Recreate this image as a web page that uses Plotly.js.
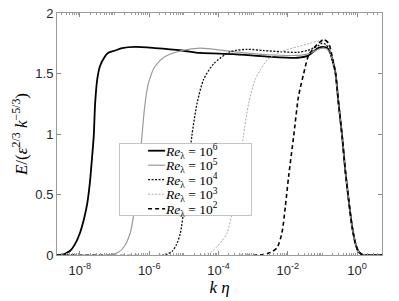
<!DOCTYPE html>
<html><head><meta charset="utf-8">
<script src="https://cdn.plot.ly/plotly-3.0.1.min.js"></script>
<style>html,body{margin:0;padding:0;background:#fff}#chart{width:399px;height:301px}</style>
</head><body><div id="chart"></div>
<script>
// x: log10(k*eta), y: E/(eps^{2/3} k^{-5/3})
const logK_Re6 = [-8.66,-8.52,-8.43,-8.28,-8.14,-8.00,-7.88,-7.79,-7.71,-7.65,-7.60,-7.56,-7.50,-7.42,-7.30,-7.19,-6.98,-6.78,-6.41,-5.83,-5.05,-4.53,-3.57,-2.59,-1.72,-1.43,-1.26,-1.12,-0.97,-0.86,-0.77,-0.68,-0.62,-0.54,-0.43,-0.34,-0.24,-0.14,-0.05,0.04,0.155,0.72];
const E_Re6    = [0,0.002,0.01,0.035,0.09,0.18,0.30,0.42,0.60,0.80,0.98,1.25,1.45,1.56,1.63,1.67,1.69,1.71,1.72,1.71,1.69,1.67,1.66,1.64,1.63,1.645,1.68,1.71,1.72,1.71,1.67,1.58,1.50,1.27,0.98,0.70,0.45,0.23,0.10,0.03,0.003,0];

const logK_Re5 = [-8.66,-7.13,-6.90,-6.72,-6.55,-6.41,-6.31,-6.21,-6.12,-6.02,-5.83,-5.54,-5.05,-4.53,-3.57,-2.59,-1.72,-1.43,-1.26,-1.12,-0.97,-0.86,-0.77,-0.68,-0.62,-0.54,-0.43,-0.34,-0.24,-0.14,-0.05,0.04,0.155,0.72];
const E_Re5    = [0,0.002,0.02,0.07,0.18,0.40,0.65,0.98,1.25,1.42,1.56,1.64,1.69,1.71,1.68,1.655,1.65,1.66,1.68,1.70,1.71,1.70,1.66,1.57,1.49,1.26,0.97,0.70,0.45,0.23,0.10,0.03,0.003,0];

const logK_Re4 = [-8.66,-5.54,-5.34,-5.22,-5.10,-4.99,-4.89,-4.77,-4.62,-4.43,-4.14,-3.66,-3.17,-2.71,-2.21,-1.72,-1.43,-1.26,-1.12,-1.01,-0.90,-0.80,-0.70,-0.62,-0.54,-0.43,-0.34,-0.24,-0.14,-0.05,0.04,0.155,0.72];
const E_Re4    = [0,0.002,0.03,0.08,0.18,0.40,0.65,0.98,1.25,1.45,1.58,1.68,1.70,1.69,1.68,1.675,1.69,1.71,1.73,1.75,1.74,1.69,1.59,1.50,1.27,0.98,0.70,0.45,0.23,0.10,0.03,0.003,0];

const logK_Re3 = [-8.66,-4.38,-4.18,-4.04,-3.89,-3.755,-3.565,-3.42,-3.28,-3.13,-2.94,-2.60,-2.21,-1.73,-1.35,-1.10,-0.96,-0.86,-0.77,-0.68,-0.62,-0.54,-0.43,-0.34,-0.24,-0.14,-0.05,0.04,0.155,0.72];
const E_Re3    = [0,0.002,0.03,0.07,0.12,0.18,0.40,0.65,0.98,1.25,1.45,1.61,1.68,1.72,1.75,1.77,1.78,1.75,1.69,1.59,1.50,1.27,0.98,0.70,0.45,0.23,0.10,0.03,0.003,0];

const logK_Re2 = [-8.66,-2.735,-2.50,-2.31,-2.17,-2.07,-1.975,-1.83,-1.69,-1.54,-1.40,-1.25,-1.11,-0.96,-0.82,-0.74,-0.68,-0.62,-0.54,-0.43,-0.34,-0.24,-0.14,-0.05,0.04,0.155,0.72];
const E_Re2    = [0,0.002,0.02,0.06,0.18,0.40,0.65,0.98,1.31,1.50,1.65,1.71,1.75,1.78,1.75,1.67,1.59,1.50,1.27,0.98,0.70,0.45,0.23,0.10,0.03,0.003,0];

const seriesNames = ['<i>Re</i><sub>λ</sub> = 10<sup>6</sup>','<i>Re</i><sub>λ</sub> = 10<sup>5</sup>','<i>Re</i><sub>λ</sub> = 10<sup>4</sup>','<i>Re</i><sub>λ</sub> = 10<sup>3</sup>','<i>Re</i><sub>λ</sub> = 10<sup>2</sup>'];
const xTickExp  = [-8,-6,-4,-2,0];
const xTickText = ['10<sup>-8</sup>','10<sup>-6</sup>','10<sup>-4</sup>','10<sup>-2</sup>','10<sup>0</sup>'];

const toK = a => a.map(v => Math.pow(10, v));
const styles = [
  {color:'#000000', width:1.8, dash:'solid'},
  {color:'#9a9a9a', width:1.2, dash:'solid'},
  {color:'#111111', width:1.3, dash:'2px,1.5px'},
  {color:'#ababab', width:1.0, dash:'2px,1.5px'},
  {color:'#000000', width:1.6, dash:'4px,3px'}
];
const xs = [logK_Re6, logK_Re5, logK_Re4, logK_Re3, logK_Re2];
const ys = [E_Re6, E_Re5, E_Re4, E_Re3, E_Re2];
const traces = xs.map((x,i) => ({
  x: toK(x), y: ys[i], type:'scatter', mode:'lines', name: seriesNames[i],
  line: Object.assign({shape:'spline', smoothing:0.7}, styles[i])
}));

const minorVals = [];
for (let e = -9; e <= 0; e++) for (let d = 1; d <= 9; d++) {
  if (d === 1 && e % 2 === 0) continue;
  minorVals.push(d * Math.pow(10, e));
}

const serif = 'Liberation Serif';
const layout = {
  width:399, height:301,
  margin:{l:57, r:17, t:13, b:46},
  paper_bgcolor:'#ffffff', plot_bgcolor:'#ffffff',
  font:{family:'Liberation Sans', size:13, color:'#262626'},
  showlegend:true,
  xaxis:{
    type:'log', range:[-8.66,0.72], tickmode:'array',
    tickvals: xTickExp.map(e => Math.pow(10, e)), ticktext: xTickText,
    ticks:'inside', ticklen:4, tickcolor:'#8a8a8a', linecolor:'#9a9a9a', linewidth:1,
    mirror:'ticks', showgrid:false, zeroline:false, ticklabelstandoff:3,
    minor:{ticks:'inside', ticklen:2, tickcolor:'#9a9a9a', tickmode:'array', tickvals:minorVals, showgrid:false},
    automargin:false,
    title:{text:'<i>k η</i>', font:{family:serif, size:17, color:'#000'}, standoff:2}
  },
  yaxis:{
    range:[0,2], tick0:0, dtick:0.5, ticks:'inside', ticklen:4, tickcolor:'#8a8a8a',
    linecolor:'#9a9a9a', linewidth:1, mirror:'ticks', showgrid:false, zeroline:false,
    automargin:false,
    title:{text:'<i>E</i>/(<i>ε</i><sup>2/3</sup> <i>k</i><sup>−5/3</sup>)', font:{family:serif, size:17, color:'#000'}, standoff:3}
  },
  legend:{x:0.191, y:0.4628, xanchor:'left', yanchor:'top', bgcolor:'#ffffff',
    bordercolor:'#c4c4c4', borderwidth:1, font:{family:serif, size:13.5, color:'#000'},
    itemwidth:30}
};
Plotly.newPlot('chart', traces, layout, {displayModeBar:false, staticPlot:true}).then(gd => {
  // tighten legend to the reference's compact MATLAB-style box
  const leg = gd.querySelector('.legend');
  if (!leg) return;
  const bg = leg.querySelector('rect.bg');
  if (bg) { bg.setAttribute('width', 132); bg.setAttribute('height', 72); }
  const sb = leg.querySelector('.scrollbox');
  if (sb) sb.removeAttribute('clip-path');
  leg.querySelectorAll('.traces').forEach((t, i) => {
    t.setAttribute('transform', 'translate(7,' + (7.7 + i * 14.5) + ')');
    t.querySelectorAll('.legendlines path').forEach(p => p.setAttribute('d', 'M22,0h17'));
  });
});
</script>
</body></html>
